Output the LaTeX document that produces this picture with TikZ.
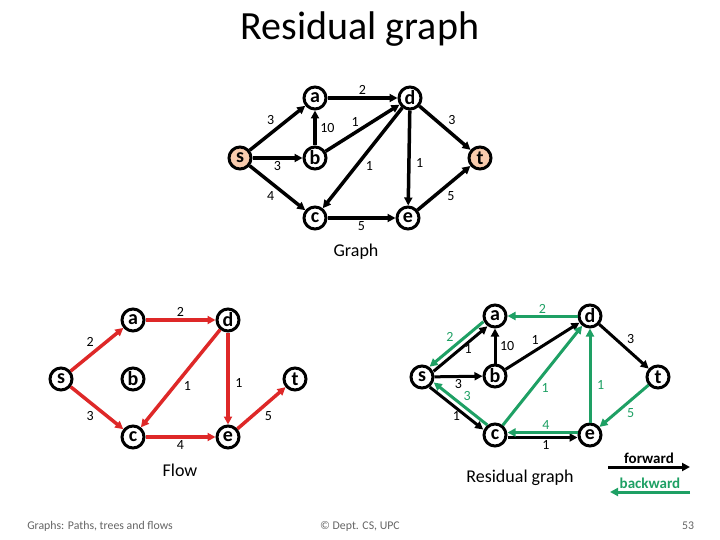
\documentclass[tikz,border=0pt]{standalone}
\usepackage{fontspec}
\setmainfont{Carlito}
\usetikzlibrary{positioning,arrows.meta,calc}
\definecolor{flowred}{RGB}{222,40,40}
\definecolor{backgreen}{RGB}{30,160,100}
\definecolor{srcfill}{RGB}{248,203,173}
\definecolor{footgray}{RGB}{100,100,100}
\tikzset{
  gnode/.style={circle, draw, line width=3pt, minimum size=22pt, inner sep=0pt,
    fill=white, font=\fontsize{20}{20}\selectfont\bfseries},
  endnode/.style={gnode, fill=srcfill},
  garc/.style={-{Triangle[length=8pt,width=8pt]}, line width=3.5pt},
  flowarc/.style={garc, color=flowred},
  fwdarc/.style={garc, line width=3pt},
  bwdarc/.style={fwdarc, color=backgreen},
  wlabel/.style={font=\fontsize{14}{14}\selectfont, inner sep=1.5pt},
  caption/.style={font=\fontsize{18}{18}\selectfont},
  legend/.style={font=\fontsize{15}{15}\selectfont\bfseries, inner sep=1.5pt},
  footer/.style={font=\fontsize{11.8}{12}\selectfont, text=footgray},
}

\begin{document}
\begin{tikzpicture}[x=1pt, y=-1pt]
  \path[use as bounding box] (0,0) rectangle (720,540);
  \node[font=\fontsize{40}{40}\selectfont] (title) at (360,29) {Residual graph};

  % graph
  \foreach \n/\x/\y in {a/315/98, b/315/158, c/315/218, d/410/98, e/408/218}
    \node[gnode] (g\n) at (\x,\y) {\n};
  \node[endnode] (gs) at (240,158) {s};
  \node[endnode] (gt) at (480,158) {t};
  \draw[garc] (gs) -- node[wlabel, above left] {3} (ga);
  \draw[garc] (gs) -- node[wlabel, below] {3} (gb);
  \draw[garc] (gs) -- node[wlabel, below left] {4} (gc);
  \draw[garc] (gb) -- node[wlabel, right=2pt] {10} (ga);
  \draw[garc] (ga) -- node[wlabel, above] {2} (gd);
  \draw[garc] (gb) -- node[wlabel, above=3pt, pos=0.4] {1} (gd);
  \draw[garc] (gd) -- node[wlabel, below right] {1} (gc);
  \draw[garc] (gd) -- node[wlabel, right=4pt, pos=0.55] {1} (ge);
  \draw[garc] (gd) -- node[wlabel, above right] {3} (gt);
  \draw[garc] (gc) -- node[wlabel, below] {5} (ge);
  \draw[garc] (ge) -- node[wlabel, below right] {5} (gt);
  \node[caption] (gcap) at (356,252) {Graph};

  % flow
  \foreach \n/\x/\y in {s/61/379, a/133/320, b/133/379, c/133/437, d/228/320, e/228/437, t/295/379}
    \node[gnode] (f\n) at (\x,\y) {\n};
  \draw[flowarc] (fs) -- node[wlabel, text=black, above left] {2} (fa);
  \draw[flowarc] (fa) -- node[wlabel, text=black, above] {2} (fd);
  \draw[flowarc] (fd) -- node[wlabel, text=black, below right] {1} (fc);
  \draw[flowarc] (fd) -- node[wlabel, text=black, right=4pt, pos=0.55] {1} (fe);
  \draw[flowarc] (fs) -- node[wlabel, text=black, below left] {3} (fc);
  \draw[flowarc] (fc) -- node[wlabel, text=black, below] {4} (fe);
  \draw[flowarc] (fe) -- node[wlabel, text=black, below right] {5} (ft);
  \node[caption] (fcap) at (180,470) {Flow};

  % residual graph
  \foreach \n/\x/\y in {s/422/377, a/495/316, b/495/376, c/495/435, d/590/316, e/590/435, t/658/377}
    \node[gnode] (r\n) at (\x,\y) {\n};
  \draw[fwdarc, transform canvas={xshift=2pt, yshift=-2.3pt}] (rs) -- node[wlabel, right=1pt] {1} (ra);
  \draw[bwdarc, transform canvas={xshift=-2pt, yshift=2.3pt}] (ra) -- node[wlabel, above left] {2} (rs);
  \draw[fwdarc] (rs) -- node[wlabel, below] {3} (rb);
  \draw[fwdarc] (rb) -- node[wlabel, right=2pt] {10} (ra);
  \draw[fwdarc] (rb) -- node[wlabel, above=3pt, pos=0.4] {1} (rd);
  \draw[fwdarc] (rd) -- node[wlabel, above right] {3} (rt);
  \draw[fwdarc, transform canvas={xshift=-2pt, yshift=-2.3pt}] (rs) -- node[wlabel, below] {1} (rc);
  \draw[bwdarc, transform canvas={xshift=2pt, yshift=2.3pt}] (rc) -- node[wlabel, above right] {3} (rs);
  \draw[fwdarc, transform canvas={yshift=-2.5pt}] (rc) -- node[wlabel, below, pos=0.55] {1} (re);
  \draw[bwdarc, transform canvas={yshift=2.5pt}] (re) -- node[wlabel, above, pos=0.45] {4} (rc);
  \draw[bwdarc] (rd) -- node[wlabel, above] {2} (ra);
  \draw[bwdarc] (rc) -- node[wlabel, below right, pos=0.45] {1} (rd);
  \draw[bwdarc] (re) -- node[wlabel, right=4pt, pos=0.4] {1} (rd);
  \draw[bwdarc] (rt) -- node[wlabel, below right] {5} (re);
  \node[caption] (rcap) at (520,478) {Residual graph};

  % legend
  \coordinate (fwdL) at (608,467);
  \coordinate (fwdR) at (690,467);
  \coordinate (bwdL) at (610,492);
  \coordinate (bwdR) at (690,492);
  \draw[fwdarc] (fwdL) -- node[legend, above] {forward} (fwdR);
  \draw[bwdarc] (bwdR) -- node[legend, above] {backward} (bwdL);

  % footer
  \node[footer] (foot1) at (100,526) {Graphs: Paths, trees and flows};
  \node[footer] (foot2) at (360,526) {© Dept. CS, UPC};
  \node[footer] (foot3) at (688,526) {53};
\end{tikzpicture}
\end{document}
